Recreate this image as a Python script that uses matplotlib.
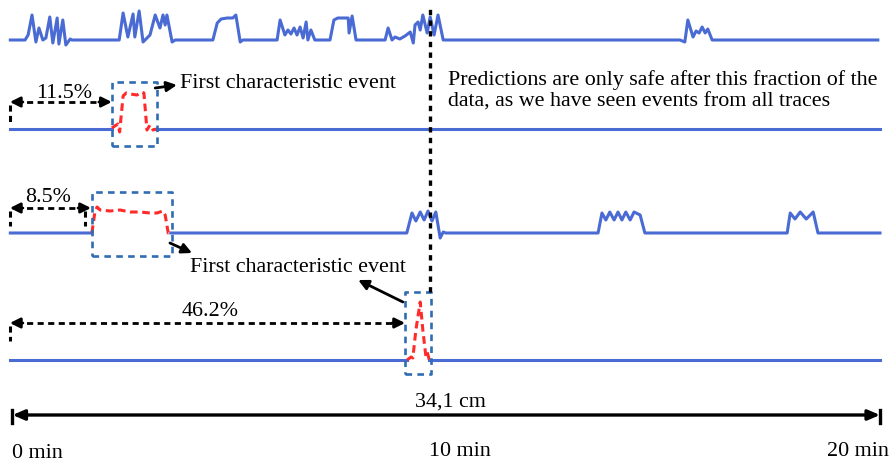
import matplotlib
matplotlib.use("Agg")
import matplotlib.pyplot as plt

# time in minutes, amplitude in px above each trace's baseline
t_trace1 = [-0.05, 0.29, 0.36, 0.45, 0.54, 0.61, 0.70, 0.77, 0.86, 0.93, 1.03, 1.07, 1.16, 1.23, 1.33, 1.37,
            2.46, 2.55, 2.66, 2.78, 2.82, 2.92, 3.01, 3.17, 3.29, 3.40, 3.47, 3.52, 3.56, 3.68, 3.75,
            4.62, 4.72, 4.81, 4.95, 5.08, 5.15, 5.25, 5.31,
            6.10, 6.17, 6.28, 6.35, 6.42, 6.49, 6.56, 6.63, 6.70, 6.77, 6.81, 6.88, 6.97,
            7.32, 7.41, 7.50, 7.67, 7.74, 7.76, 7.83, 7.92,
            8.59, 8.66, 8.75, 8.82, 8.93, 9.05, 9.17, 9.24, 9.28, 9.35, 9.40, 9.46, 9.56, 9.63, 9.72, 9.81, 9.93,
            15.39, 15.50, 15.57, 15.69, 15.76, 15.83, 15.90, 15.97, 16.03, 16.13, 19.95]
a_trace1 = [0, 0, 5, 25, -2, 12, 0, 2, 23, -3, 22, -4, 20, -5, 1, 0,
            0, 27, 3, 26, 3, 29, -2, 5, 25, 12, 25, 15, 25, -2, 0,
            0, 17, 21, 22, 22, 25, -2, 0,
            0, 20, 5, 10, 6, 12, 5, 13, 2, 18, 0, 10, 0,
            0, 20, 22, 22, 22, 7, 24, 0,
            0, 12, 0, 3, 1, 4, 8, -3, 15, 18, 10, 25, 7, 23, 5, 25, 0,
            0, -2, 20, 3, 9, 7, 13, 7, 11, 0, 0]

# trace 2: flat trace, characteristic event in red
t_trace2_blue = [[-0.05, 2.29], [3.31, 20.0]]
t_event2 = [2.29, 2.36, 2.43, 2.47, 2.55, 2.62, 2.71, 2.87, 2.99, 3.03, 3.10, 3.17, 3.24, 3.31]
a_event2 = [1, 3, 5, -3, 33, 36, 35, 34, 37, 36, -1, 4, -1, 0]

# trace 3
t_trace3 = [-0.05, 1.83, None,
            3.65, 9.09, 9.21, 9.30, 9.40, 9.49, 9.58, 9.67, 9.76, 9.86, 9.93, 9.99,
            13.50, 13.59, 13.68, 13.77, 13.87, 13.96, 14.05, 14.14, 14.24, 14.33, 14.47, 14.58,
            17.86, 17.93, 18.04, 18.16, 18.30, 18.46, 18.57, 20.0]
a_trace3 = [0, 0, None,
            0, 0, 20, 12, 21, 13, 22, 12, 21, -5, 1, 0,
            0, 20, 13, 21, 13, 21, 13, 21, 13, 21, 18, 0,
            0, 20, 14, 21, 14, 21, 0, 0]
t_event3 = [1.83, 1.90, 1.95, 2.02, 2.25, 2.48, 2.71, 2.94, 3.17, 3.33, 3.47, 3.52, 3.59, 3.65]
a_event3 = [0, 21, 26, 23, 22, 23, 21, 21, 20, 20, 22, 18, 0, 0]

# trace 4
t_trace4_blue = [[-0.05, 9.10], [9.61, 20.0]]
t_event4 = [9.10, 9.19, 9.23, 9.30, 9.40, 9.46, 9.53, 9.56, 9.61]
a_event4 = [0, 3, 2, 30, 58, 30, 4, 8, 0]

# event boxes: (t0, t1, amp_bottom, amp_top)
boxes = {2: (2.30, 3.33, -17, 47), 3: (1.83, 3.68, -23, 41), 4: (9.05, 9.65, -14, 68)}
fractions = ["11.5%", "8.5%", "46.2%"]
t_safe = 9.63
time_labels = ["0 min", "10 min", "20 min"]
length_label = "34,1 cm"
note = "Predictions are only safe after this fraction of the\ndata, as we have seen events from all traces"
event_label = "First characteristic event"

BLUE = "#4a6bd3"
RED = "#ff2b2b"
BOX = "#2f6cb3"
base = {1: 423, 2: 334, 3: 230, 4: 103}

plt.rcParams["font.family"] = ["Liberation Serif", "DejaVu Serif"]
fs = 15.8

fig = plt.figure(figsize=(8.95, 4.63), dpi=100)
ax = fig.add_axes([0, 0, 1, 1])
ax.set_xlim(-0.288, 20.346)
ax.set_ylim(0, 463)
ax.axis("off")


def shift(vals, b):
    return [None if v is None else v + b for v in vals]


# traces
t3 = [float("nan") if v is None else v for v in t_trace3]
ax.plot(t_trace1, shift(a_trace1, base[1]), color=BLUE, lw=2.2, solid_joinstyle="round")
for seg in t_trace2_blue:
    ax.plot(seg, [base[2], base[2]], color=BLUE, lw=2.2)
ax.plot(t3, [float("nan") if v is None else v + base[3] for v in a_trace3], color=BLUE, lw=2.2)
for seg in t_trace4_blue:
    ax.plot(seg, [base[4], base[4]], color=BLUE, lw=2.2)

for te, ae, k in [(t_event2, a_event2, 2), (t_event3, a_event3, 3), (t_event4, a_event4, 4)]:
    ax.plot(te, shift(ae, base[k]), color=RED, lw=2.2, dashes=(2.5, 1.5))
    x0, x1, yb, yt = boxes[k]
    ax.plot([x0, x1, x1, x0, x0], [base[k] + yb, base[k] + yb, base[k] + yt, base[k] + yt, base[k] + yb],
            color=BOX, lw=1.9, dashes=(2.5, 2.0))

# safe-prediction line
ax.plot([t_safe, t_safe], [base[4] + boxes[4][3], 458], color="black", lw=2.4, dashes=(1.6, 1.6))


def dashed_double_arrow(x0, x1, y, ticks):
    ax.plot([x0 + 0.15, x1 - 0.15], [y, y], color="black", lw=2.0, dashes=(2.2, 1.6))
    for xe, d in [(x0, 0.3), (x1, -0.3)]:
        ax.annotate("", xy=(xe, y), xytext=(xe + d, y),
                    arrowprops=dict(arrowstyle="-|>,head_length=0.6,head_width=0.3",
                                    color="black", lw=2.0, shrinkA=0, shrinkB=0))
    for tx, ya, yb in ticks:
        ax.plot([tx, tx], [ya, yb], color="black", lw=2.2, dashes=(2.0, 1.4), solid_capstyle="butt")


# fraction arrows
dashed_double_arrow(-0.06, 2.29, 361, [(-0.06, 358, 341)])
ax.text(1.19, 370, fractions[0], fontsize=fs, ha="center", va="center")
dashed_double_arrow(-0.06, 1.81, 255, [(-0.06, 252, 237), (1.67, 252, 237)])
ax.text(0.82, 266, fractions[1], fontsize=fs, ha="center", va="center")
dashed_double_arrow(-0.06, 9.05, 140, [(-0.06, 137, 122)])
ax.text(4.55, 151, fractions[2], fontsize=fs, ha="center", va="center")

# event labels
arrow_kw = dict(arrowstyle="-|>,head_length=0.6,head_width=0.3", color="black", lw=2.0, shrinkA=0, shrinkB=0)
ax.annotate("", xy=(3.79, 378), xytext=(3.29, 375), arrowprops=arrow_kw)
ax.text(3.86, 379, event_label, fontsize=fs, ha="left", va="center")
ax.annotate("", xy=(4.14, 210), xytext=(3.63, 220), arrowprops=arrow_kw)
ax.text(4.09, 196, event_label, fontsize=fs, ha="left", va="center")
ax.annotate("", xy=(7.97, 183), xytext=(9.00, 161), arrowprops=arrow_kw)

ax.text(10.04, 372, note, fontsize=fs, ha="left", va="center", linespacing=1.22)

# length scale
ax.annotate("", xy=(0.0, 48), xytext=(20.0, 48),
            arrowprops=dict(arrowstyle="<|-|>,head_length=0.7,head_width=0.3", color="black", lw=2.4,
                            shrinkA=0, shrinkB=0))
for tx in [0.0, 20.0]:
    ax.plot([tx, tx], [40, 53], color="black", lw=2.4)
ax.text(10.09, 61, length_label, fontsize=fs, ha="center", va="center")
ax.text(0.0, 10, time_labels[0], fontsize=fs, ha="left", va="center")
ax.text(10.32, 11, time_labels[1], fontsize=fs, ha="center", va="center")
ax.text(20.2, 11, time_labels[2], fontsize=fs, ha="right", va="center")

fig.savefig("out.png", dpi=100)
